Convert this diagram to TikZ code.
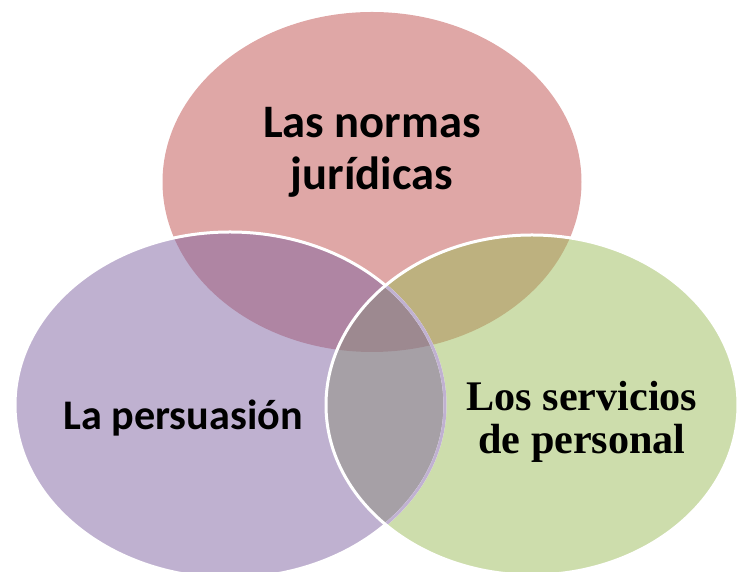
\documentclass[tikz,border=0pt]{standalone}
\usepackage{fontspec}
\newfontfamily\calibrifont{Carlito}
\newfontfamily\timesfont{Liberation Serif}
\definecolor{rojo}{HTML}{C0504D}
\definecolor{morado}{HTML}{8064A2}
\definecolor{verde}{HTML}{9BBB59}
\begin{document}
\begin{tikzpicture}
\useasboundingbox (0, 0) rectangle (14.74, 11.44);
% rellenos: arriba, derecha, izquierda
\fill[rojo, fill opacity=0.5] (7.44, 7.80) ellipse [x radius=4.19, y radius=3.40];
\fill[verde, fill opacity=0.5] (10.64, 3.34) ellipse [x radius=4.12, y radius=3.40];
\fill[morado, fill opacity=0.5] (4.60, 3.34) ellipse [x radius=4.30, y radius=3.46];
% bordes
\draw[white, line width=0.06cm] (4.60, 3.34) ellipse [x radius=4.30, y radius=3.46];
\begin{scope}
\clip (10.64, 3.34) ellipse [x radius=4.12, y radius=3.40];
\draw[morado!50!white, line width=0.06cm] (4.60, 3.34) ellipse [x radius=4.30, y radius=3.46];
\end{scope}
\draw[white, line width=0.06cm] (10.64, 3.34) ellipse [x radius=4.12, y radius=3.40];
\draw (7.44, 8.40) node[align=center, font=\calibrifont\bfseries\fontsize{26.5}{29.5}\selectfont] (uno) {Las normas\\jurídicas};
\draw (3.66, 3.08) node[font=\calibrifont\bfseries\fontsize{24}{28}\selectfont] (dos) {La persuasión};
\draw (11.64, 3.00) node[align=center, font=\timesfont\bfseries\fontsize{24}{24.4}\selectfont] (tres) {Los servicios\\de personal};
\end{tikzpicture}
\end{document}
